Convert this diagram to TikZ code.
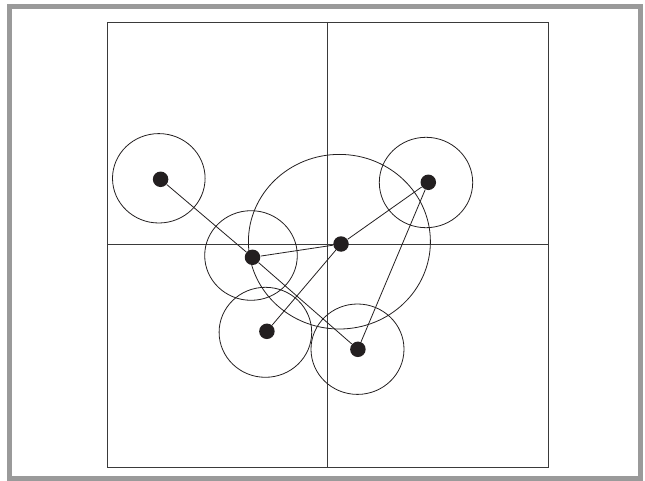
\documentclass[tikz,border=0pt]{standalone}
\usepackage{tikz}
\usetikzlibrary{positioning, shapes.geometric}
\definecolor{FrameGray}{HTML}{9A9A9A}
\definecolor{PlotInk}{HTML}{231F20}
\definecolor{AxisInk}{HTML}{3A3A3A}

\begin{document}
\begin{tikzpicture}[x=1pt, y=-1pt, line width=0.8pt]
\tikzset{
  dot/.style={circle, fill=PlotInk, inner sep=0pt, minimum size=15.5pt},
  ring/.style={ellipse, draw=PlotInk, inner sep=0pt, line width=0.8pt},
  link/.style={draw=PlotInk, line width=0.8pt}
}
\useasboundingbox (0,0) rectangle (645,481);
% outer frame
\draw[FrameGray, line width=5pt] (9.5,6.5) rectangle (640.5,478.5);
% square and cross
\draw[AxisInk, line width=0.9pt] (107,22) rectangle (548,467);
\draw[AxisInk, line width=1pt] (327.4,22) -- (327.4,467);
\draw[AxisInk, line width=1pt] (107,244.7) -- (548,244.7);
% rings
\node[ring, minimum width=92.6pt, minimum height=89.4pt] (r1) at (158.8,178.3) {};
\node[ring, minimum width=93.4pt, minimum height=90.4pt] (r2) at (426,182.5) {};
\node[ring, minimum width=182pt, minimum height=174.6pt] (r3) at (339.4,241.7) {};
\node[ring, minimum width=92.6pt, minimum height=89.6pt] (r4) at (251,255.5) {};
\node[ring, minimum width=92.6pt, minimum height=90pt] (r5) at (265.4,332.3) {};
\node[ring, minimum width=93pt, minimum height=90.4pt] (r6) at (357.5,349.2) {};
% dots
\node[dot] (p1) at (160.6,179.3) {};
\node[dot] (p2) at (428.3,182.3) {};
\node[dot] (p3) at (341,244) {};
\node[dot] (p4) at (252.5,257.3) {};
\node[dot] (p5) at (266.9,331.3) {};
\node[dot] (p6) at (357.9,349.3) {};
% links
\draw[link] (p1) -- (p4);
\draw[link] (p4) -- (p3);
\draw[link] (p4) -- (p6);
\draw[link] (p3) -- (p2);
\draw[link] (p3) -- (p5);
\draw[link] (p2) -- (p6);
\end{tikzpicture}
\end{document}
